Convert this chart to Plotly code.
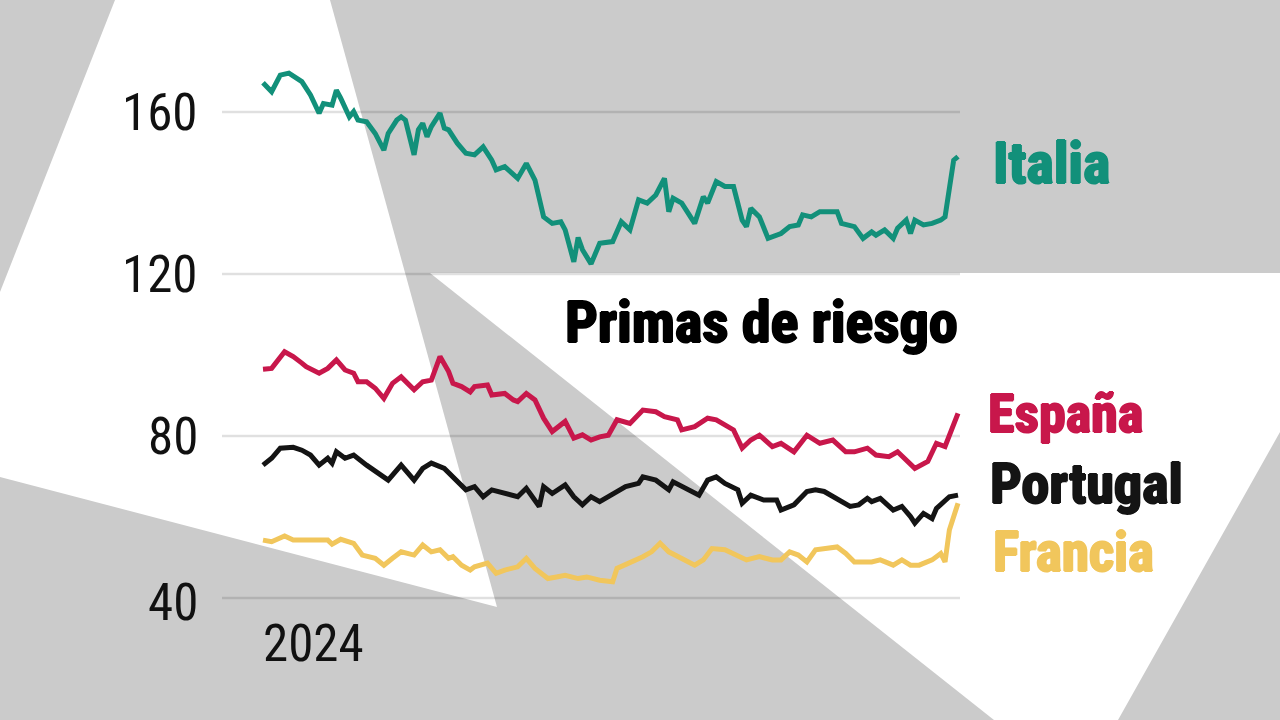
import pandas as pd
import plotly.graph_objects as go

# ---------------- data ----------------
inicio = "2024-01-02"

italia_dias = [0,2,4,6,9,11,13,14,16,17,18,20,21,22,24,26,28,29,31,32,33,35,36,37,38,39,41,42,43,45,
               47,49,51,53,54,56,59,61,63,65,67,69,70,72,73,74,76,78,81,83,85,87,89,91,93,94,95,97,100,102,
               103,105,107,109,111,112,113,115,117,120,122,124,125,127,129,133,134,137,139,141,142,144,146,147,149,150,151,153,155,157,
               158,159,160,161]
italia_vals = [167.2,165.0,169.1,169.6,167.5,164.2,159.7,162.1,161.7,165.4,163.4,158.8,160.1,158.0,157.6,154.7,150.6,154.7,158.0,158.8,
               158.0,149.4,155.6,157.2,153.9,156.4,159.7,156.0,155.6,152.3,149.8,149.4,151.4,148.1,145.7,146.5,143.6,147.3,143.2,134.1,
               132.5,132.9,130.9,123.0,129.0,126.0,122.5,127.6,128.0,132.9,130.9,138.3,137.5,139.5,143.6,135.4,138.7,137.5,132.5,139.1,
               137.5,142.8,141.6,141.6,133.3,131.7,136.2,134.1,128.8,130.0,131.7,132.1,134.6,134.1,135.4,135.4,132.5,131.7,128.8,130.4,
               129.6,130.9,128.8,131.3,133.3,130.0,133.3,132.1,132.5,133.3,134.1,140.7,148.1,149.0]

espana_dias = [0,2,5,7,9,10,13,15,17,19,21,22,24,26,28,30,32,35,37,39,41,43,44,46,48,49,52,53,56,58,
               59,61,63,65,67,70,72,74,76,78,80,82,85,88,91,93,96,97,100,103,105,107,109,111,113,115,118,120,123,126,
               129,132,135,137,140,142,145,147,150,151,154,156,158,160,161]
espana_vals = [96.5,96.7,100.8,99.6,98.0,97.1,95.5,96.7,98.8,96.3,95.5,93.4,93.4,91.8,89.3,93.0,94.6,91.4,93.4,93.8,
               99.6,95.9,93.0,92.2,90.9,92.2,92.6,90.1,90.5,88.9,88.5,90.5,88.9,84.4,81.1,83.6,79.5,80.3,79.0,79.8,
               80.2,84.0,83.1,86.4,86.0,84.8,84.0,81.5,82.3,84.4,84.0,82.7,81.5,77.0,79.0,80.2,77.4,78.2,76.1,80.2,
               78.2,79.0,76.1,76.1,77.0,75.3,74.9,76.1,73.2,72.0,73.7,78.2,77.4,83.1,85.6]

portugal_dias = [0,2,4,7,9,11,13,15,16,17,19,21,24,26,29,32,35,37,39,42,44,47,49,51,53,56,59,61,64,65,
                 67,70,72,74,76,78,81,84,87,88,91,94,95,98,101,103,105,107,110,111,113,116,119,120,123,126,128,130,133,136,
                 138,140,141,143,146,148,150,151,153,155,156,157,159,161]
portugal_vals = [72.8,74.5,77.0,77.2,76.5,75.3,72.8,74.5,73.3,76.1,74.5,75.3,72.8,71.2,69.1,72.8,69.1,72.0,73.3,72.0,
                 69.9,66.7,67.5,65.0,66.7,65.8,65.0,67.1,62.6,67.5,65.8,67.9,65.0,63.0,65.0,63.8,65.8,67.5,68.3,69.9,
                 69.1,66.7,68.7,67.1,65.4,69.1,69.9,68.3,66.7,63.4,65.4,64.2,64.2,61.7,63.0,66.3,66.7,66.3,64.6,62.6,
                 63.0,64.6,63.8,64.6,61.7,62.6,60.1,58.5,60.9,59.6,62.1,63.0,65.0,65.4]

francia_dias = [0,2,5,7,10,15,16,18,21,23,26,28,30,32,35,37,39,41,43,44,46,48,49,52,54,56,59,61,63,66,
                68,70,73,75,78,81,82,85,88,90,92,94,97,100,102,104,107,109,112,115,118,120,122,124,126,128,130,133,135,137,
                141,143,146,148,150,152,155,157,158,159,161]
francia_vals = [54.3,53.9,55.3,54.3,54.3,54.3,53.3,54.5,53.5,50.6,49.8,48.1,49.8,51.4,50.6,53.1,51.4,51.9,49.8,50.2,
                48.1,46.9,47.7,48.6,46.1,46.9,47.7,49.8,47.3,44.8,45.2,45.6,44.8,45.2,44.4,44.0,47.3,48.6,50.2,51.4,
                53.5,51.4,49.8,48.1,49.4,52.2,51.9,51.0,49.4,50.2,49.4,49.4,51.4,50.6,48.9,51.9,52.2,52.6,51.0,48.9,
                48.9,49.4,48.1,49.4,48.1,48.1,49.4,51.0,48.9,56.8,63.4]

paises = ["Italia", "España", "Portugal", "Francia"]
colores = ["#12907a", "#c8174b", "#141414", "#f1c65c"]
y_ticks = [160, 120, 80, 40]
y_tick_labels = ["160", "120", "80", "40"]
x_label = "2024"
titulo = "Primas de riesgo"

series = [(italia_dias, italia_vals), (espana_dias, espana_vals),
          (portugal_dias, portugal_vals), (francia_dias, francia_vals)]

# ---------------- layout geometry (pixels) ----------------
W, H = 1280, 720
X0_PX, X1_PX, DAY1 = 263, 958, 161          # first/last data pixel and last day
PX_PER_DAY = (X1_PX - X0_PX) / DAY1
Y160_PX, Y40_PX = 112, 598
PX_PER_UNIT = (Y40_PX - Y160_PX) / 120.0
start = pd.Timestamp(inicio)
x_range = [start - pd.Timedelta(days=X0_PX / PX_PER_DAY),
           start + pd.Timedelta(days=(W - X0_PX) / PX_PER_DAY)]
y_range = [40 - (H - Y40_PX) / PX_PER_UNIT, 160 + Y160_PX / PX_PER_UNIT]

def px(x, y):
    return x / W, 1 - y / H

def path(points):
    s = ""
    for i, (x, y) in enumerate(points):
        a, b = px(x, y)
        s += ("M" if i == 0 else "L") + f"{a:.5f},{b:.5f} "
    return s + "Z"

NARROW = "Liberation Sans Narrow, Arial Narrow, Roboto Condensed, DejaVu Sans Condensed, sans-serif"

def heavy(col, d=1.1):
    return (f"{d}px 0 0 {col}, -{d}px 0 0 {col}, 0 {d*0.6:.2f}px 0 {col}, "
            f"0 -{d*0.6:.2f}px 0 {col}")

fig = go.Figure()
for nombre, (dias, vals), col in zip(paises, series, colores):
    fechas = start + pd.to_timedelta(dias, unit="D")
    fig.add_trace(go.Scatter(x=fechas, y=vals, mode="lines", name=nombre,
                             line=dict(color=col, width=5, shape="linear"),
                             hoverinfo="skip"))

shapes = []
# white cut-outs over the crumpled grey paper
shapes.append(dict(type="path", xref="paper", yref="paper", layer="below",
                   path=path([(115, 0), (330, 0), (497, 607), (0, 477), (0, 292)]),
                   fillcolor="white", line=dict(width=0)))
shapes.append(dict(type="path", xref="paper", yref="paper", layer="below",
                   path=path([(430, 273), (W, 273), (W, 432), (1118, H), (994, H)]),
                   fillcolor="white", line=dict(width=0)))
# gridlines
for v in y_ticks:
    shapes.append(dict(type="line", xref="paper", yref="y", layer="below",
                       x0=222 / W, x1=960 / W, y0=v, y1=v,
                       line=dict(color="rgba(0,0,0,0.12)", width=2.5)))

annotations = []
for v, t in zip(y_ticks, y_tick_labels):
    annotations.append(dict(x=200 / W, y=v, xref="paper", yref="y", text=t,
                            showarrow=False, xanchor="right", yanchor="middle",
                            yshift=-4 if v == 40 else 0,
                            font=dict(family=NARROW, size=51, color="#111111")))
annotations.append(dict(x=261 / W, y=1 - 643 / H, xref="paper", yref="paper", text=x_label,
                        showarrow=False, xanchor="left", yanchor="middle",
                        font=dict(family=NARROW, size=51, color="#111111")))
annotations.append(dict(x=960 / W, y=1 - 322 / H, xref="paper", yref="paper",
                        text=f"<b>{titulo}</b>", showarrow=False,
                        xanchor="right", yanchor="middle",
                        font=dict(family=NARROW, size=58, color="#000000",
                                  shadow=heavy("#000000"))))
label_pos = [(991, 163, 58), (986, 414, 54), (988, 484, 56), (991, 552, 55)]
for nombre, col, (lx, ly, fs) in zip(paises, colores, label_pos):
    annotations.append(dict(x=lx / W, y=1 - ly / H, xref="paper", yref="paper",
                            text=f"<b>{nombre}</b>", showarrow=False,
                            xanchor="left", yanchor="middle",
                            font=dict(family=NARROW, size=fs, color=col,
                                      shadow=heavy(col))))

fig.update_layout(
    width=W, height=H, margin=dict(l=0, r=0, t=0, b=0),
    paper_bgcolor="#cbcbcb", plot_bgcolor="rgba(0,0,0,0)",
    showlegend=False,
    xaxis=dict(range=x_range, visible=False, fixedrange=True),
    yaxis=dict(range=y_range, visible=False, fixedrange=True),
    shapes=shapes, annotations=annotations,
)

fig.write_html("out.html", config={"displayModeBar": False},
               post_script="document.body.style.margin='0';document.body.style.overflow='hidden';")
